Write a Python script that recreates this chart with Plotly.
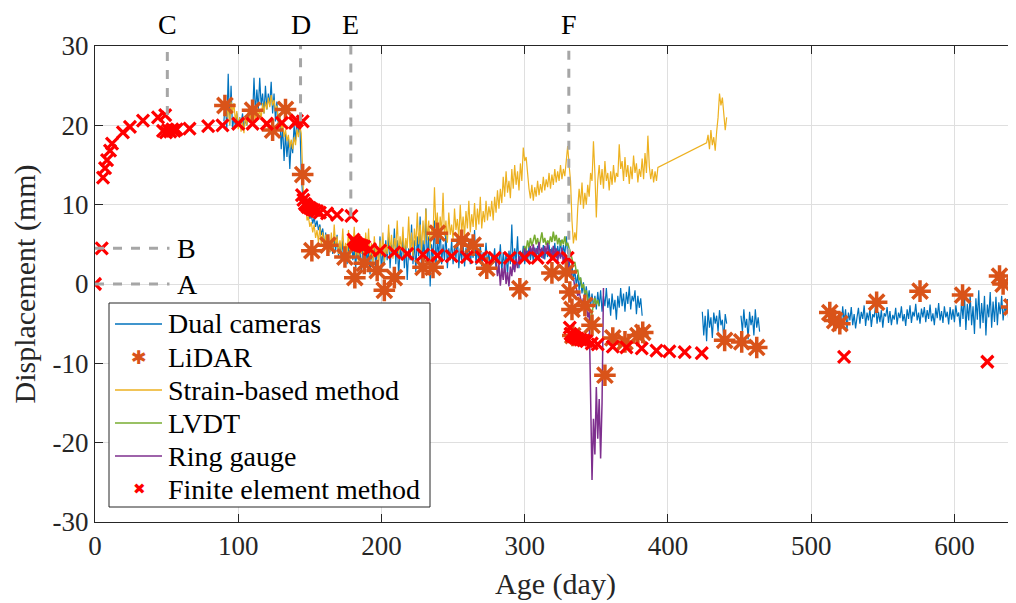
import plotly.graph_objects as go

# ---------------- data ----------------
# Dual cameras: (start day, daily values)
cam_segments = [
    (90, [20.5, 23, 19.5, 26.5, 20, 25, 19.5, 21, 20, 21.5,
          19.8, 21, 20.2, 21.5, 19.5, 20.8, 20, 21.5, 20.5, 22,
          21, 26, 21.5, 24.5, 22, 26, 22.5, 24, 21.5, 25,
          22, 24, 22.5, 25.5, 21.5, 24, 20.5, 23, 20, 21.5,
          17, 20, 15.5, 19, 16, 18.5, 14.5, 18, 16.5, 20,
          18, 21, 19, 20.5, 14, 11, 10, 9.5, 8.8, 9.5,
          8.2, 8.8, 7.6, 8.4, 7.2, 8, 6.8, 7.5, 6.2, 7, 5.5]),
    (161, [6.5, 4.5, 6, 4, 5.5, 3.8, 5.8, 4.2, 6.2, 3.5,
           5, 3, 5.5, 3.2, 4.8, 2.5, 5, 3.5, 6, 3,
           4.5, 2, 5, 3, 4.2, 1.5, 4.8, 3, 5.5, 2.5,
           4.5, 1.2, 4, 2.8, 5.2, 2, 4.6, 3, 6, 1.5,
           4.5, 2.5, 5.5, 3, 6.5, 2, 5, 3.5, 7, 2.5,
           5.5, 1, 4.5, 3, 6, 2, 5, 0.5, 4.5, 3,
           7.5, 2.5, 5.5, 1.5, 6, 3.5, 8.5, 2, 5.5, 3,
           9.5, 2.5, 6, -0.3, 5, 3, 8, 2, 5.5, 3.5,
           7, 2.5, 5, 3, 6.5, 2, 4.5, 3, 5.5, 2.5,
           4.8, 3.2, 6, 2, 4.5, 3, 5, 2.2, 4.6, 3,
           5.5, 2.5, 4.2, 3.3, 6.8, 2.4, 4.5, 2.8, 5, 2.2,
           4, 3, 5.2, 2.5, 4, 2, 3.8, 2.6, 4.5, 1.8,
           3.5, 2.5, 5, 1.5, 4, 2.2, 3.8, 1.2, 4.2, 2.5,
           7.5, 1.8, 4.5, 2.8, 6, 2, 4.2, 3, 4.8, 2.5,
           4.4, 2.8, 4.8, 3, 4.5, 2.8, 4.6, 3.2, 4.8, 2.9,
           4.4, 3.3, 4.9, 3.1, 4.5, 3.4, 5, 3.2, 4.6, 3.5,
           5.2, 3.3, 4.8, 3.6, 5.5, 3.4, 4.9, 3.6, 6, 3.8]),
    (331, [3, 1.5, 2.5, 0.5, 1.8, -0.2, 1.2, -0.8, 0.8, -1.2,
           0.2, -1.8, -0.3, -2.2, -0.8, -2.8, -1.2, -3, -1.5, -3.2,
           -1, -2.8, -0.8, -3.5, -1.5, -2.8, -0.5, -3, -1.8, -4,
           -1.2, -3.2, -2, -4.5, -1.5, -3, -0.5, -2.8, -1.2, -3.5,
           -1, -2.5, -0.3, -3.2, -1.5, -2.2, -0.8, -3.8, -1.5, -3,
           -1.8, -4]),
    (424, [-3.5, -6.5, -4, -7.2, -3.2, -5.5, -4.2, -6.8, -3.6, -5,
           -4, -6, -3.3, -5.2, -4.5, -7, -3.8, -5]),
    (451, [-4, -6, -3.2, -5.5, -4.4, -7, -3.5, -5.2, -4, -6.5,
           -3.2, -5.5, -4.2, -6]),
    (520, [-3.5, -5.5, -2.8, -4.8, -3.2, -5.8, -3.6, -4.6, -2.9, -5.2,
           -3.8, -5.6, -4.2, -3, -5, -3.5, -4.4, -2.7, -5.3, -3.6,
           -4.6, -3.1, -5.4, -3.8, -4.2, -2.6, -5, -3.5, -4.8, -3.3,
           -5.5, -3.7, -4.1, -2.9, -4.9, -3.4, -5.2, -3.9, -4.5, -3,
           -5.1, -3.6, -4.3, -2.8, -4.7, -3.8, -5.3, -3.2, -4.4, -2.7,
           -4.9, -3.5, -4.1, -2.5, -4.6, -3.6, -5, -3.1, -4.2, -2.9,
           -4.8, -3.3, -4.4, -2.6, -4.7, -3.7, -5.2, -3, -4.3, -2.4,
           -4.6, -3.4, -4.9, -2.8, -4.2, -3.5, -5.1, -2.9, -4.5, -3.2,
           -4.8, -2.7, -4.1, -3.6, -5.4, -2.2, -4.4, -1.2, -5.8, -2.5,
           -4.6, -1.4, -5.2, -2.8, -6.3, -1.8, -4.5, -0.8, -5.6, -2.4,
           -4.9, -1.5, -6.5, -2.6, -4.2, -1, -5.5, -2.2, -4.8, -1.6,
           -5.2, -2.3, -3.8, -1.5, -4.6, -2.8, -3.6, -1.9, -4.9, -2.5,
           -3.9, -2.1, -4.4, -3]),
]

# Strain-based method (two pieces joined by a straight line)
strain_segments = [
    (92, [21, 22.5, 20, 23, 21.5, 22.8, 20.5, 21.8, 19.5, 21,
          19.2, 20.5, 19, 21.2, 20, 22, 20.5, 21.5, 20.2, 21.8,
          20.6, 22.5, 21, 22, 20.8, 22.8, 21.5, 23, 22, 23.5,
          22.3, 23.8, 22.5, 23.2, 21.8, 22.5, 20.5, 21.5, 19.5, 20.2,
          18.5, 19.5, 18, 18.8, 17.2, 18.2, 17, 18.5, 17.5, 19.5,
          18.5, 20, 19, 12.5, 9, 11, 8, 8.5, 7.2, 7.8,
          6.5, 7.5, 5.8, 6.8, 5.2, 7.2, 5, 6.5, 4.5,
          6.2, 4.5, 5.8, 4, 6.5, 4.2, 7.5, 4.8, 6, 3.8,
          5.5, 4.2, 7, 3.5, 5.2, 4, 6.8, 3, 5.5, 4.5,
          7.2, 3.5, 5, 2.5, 6, 3.8, 5.5, 2.8, 6.5, 4,
          7, 3, 5.2, 2.5, 6, 3.5, 4.8, 2.2, 5.5, 3.5,
          6.5, 2.8, 5, 3.8, 7.5, 4, 6.2, 3.2, 5.8, 4.5,
          8, 3.8, 6, 4.2, 7.2, 3.5, 5.8, 4.5, 8.5, 4,
          6.5, 3.5, 7, 4.8, 9, 5, 7.5, 4.2, 8, 5,
          9.5, 5.5, 8, 4.5, 7, 6, 12.2, 7, 9, 5.5,
          8.5, 6.5, 11.5, 6, 8, 5.2, 9, 6.2, 7.5, 5.5,
          9.5, 6.8, 8.2, 5.8, 10, 6.5, 8.5, 6, 9.2, 7,
          10.5, 6.5, 8.8, 7.2, 10.2, 6.8, 9.5, 7.5, 11, 7,
          9.2, 7.8, 10.5, 8, 9.8,
          8.5, 10.5, 8, 11, 9, 11.8, 9.5, 12, 10.2, 13.5,
          11, 14.2, 11.5, 13, 10.8, 14.5, 12, 15, 12.5, 14.2,
          11.8, 15.2, 13, 17.2, 15.5, 16, 13.5, 12, 10.8, 12.5,
          10.5, 12.2, 11, 13, 11.2, 12.6, 11.5, 13.5, 11.8, 13.2,
          12.2, 14, 12, 13.8, 12.5, 14.5, 12.8, 14.2, 13, 15,
          13.2, 14.5, 13.6, 15.2, 17.4,
          15, 13, 8, 5.1, 6.5, 5.5, 9.5, 12, 10, 12.8,
          9.5, 11.5, 10, 12.5, 11, 14, 13, 18, 14, 8.4,
          13, 15, 12.5, 14.5, 12, 15.5, 13, 14, 11.8, 14.2,
          12.5, 15, 12.8, 14, 13.5, 17.6, 14.5, 15.5, 13, 16,
          13.5, 15, 12.6, 14.8, 13.2, 16.2, 14, 15.2, 12.8, 14.5,
          13.5, 15.8, 13.2, 16.5, 14, 18.7, 14.8, 13.2, 14.5, 12.8,
          14.2, 13, 14.7]),
    (427, [17.8, 18.8, 17, 19.4, 17.5, 18.5, 16.8, 19.2, 21, 24,
           22.5, 23.5, 21, 19.4, 21]),
]

# LVDT
lvdt_start = 299
lvdt_vals = [3.5, 4.8, 4.2, 5.5, 4.6, 5.8, 4.8, 5.4, 6.2, 5,
             5.8, 4.6, 5.6, 6.5, 5.2, 5.8, 4.9, 5.5, 5, 6,
             5.3, 6.6, 5.4, 6.2, 5, 5.8, 4.8, 5.6, 5, 6,
             4.8, 5.2, 4.5, 4, 3.2, 2.5, 2.8, 1.5, 1.8, 0.5,
             0.8, -0.5, 0, -1.2, -0.8, -2, -2.8, -5, -3.5, -2.5,
             -1.8, -2.6, -2, -2.8]

# Ring gauge
ring_start = 280
ring_vals = [3, 1, 2.5, -0.2, 2, 0.5, 2.8, 0, 1.5, -0.3,
             2.2, 1, 3, 1.5, 3.2, 2, 3.5, 2.5, 4, 3,
             4.5, 3.2, 4.2, 3.5, 4.8, 3.6, 5, 3.4, 4.5, 3.8,
             5.3, 3.5, 4.6, 3.2, 4.8, 3.8, 5.2, 3.6, 4.4, 3,
             4.8, 3.5, 4.5, 2.8, 4.2, 3.2, 4.6, 2.5, 4, 2.2,
             3.5, 1.7, 2.2, 0.5, 0.8, -0.4, -0.5, -1.5, -1, -2,
             -2.6, -1.8, -3.2, -2.5, -4.2, -3.5, -14, -24.7, -17, -21.5,
             -13, -19.5, -14.5, -22, -15, -0.5]

# LiDAR
lidar_day = [90.7, 110, 124, 133, 145, 151.4, 162.6, 174.5, 181.4, 188,
             197, 202, 209, 229, 236, 239, 256, 264, 273.5, 296.6,
             319, 329, 331.5, 333, 333.6, 342, 347, 356, 361.5, 370,
             379, 382.4, 439.6, 451.5, 462, 513, 516.4, 520, 545.7, 576,
             605.7, 631.5, 634, 640]
lidar_val = [22.5, 21.9, 19.4, 22.0, 13.8, 4.2, 4.9, 3.4, 0.8, 2.6,
             1.7, -0.8, 0.8, 2.1, 2.1, 6.4, 5.5, 4.9, 2.0, -0.6,
             1.4, 1.5, -1.0, -3.2, -6.5, -2.7, -5.2, -11.5, -6.8, -7.3,
             -6.5, -6.1, -7.1, -7.3, -8.0, -3.6, -4.6, -5.0, -2.3, -0.9,
             -1.4, 1.0, 0.0, -2.9]

# Finite element method
fem_day = [0, 4.7, 5.6, 7, 8.4, 10.5, 11.9, 19.5, 24.4, 33.5,
           44, 49, 47.5, 49.5, 51, 52.5, 54, 55.5, 57, 66,
           79, 89, 100, 110, 120, 130.5, 139.6, 141, 145,
           144.5, 145.5, 146.5, 147.5, 148.5, 150, 151.5, 153, 155, 157,
           162, 169, 179, 180.5, 181.5, 182.5, 183.5, 185, 186.5, 188,
           192, 199, 209, 218, 229, 239, 249, 259.6, 270, 279,
           289.6, 300, 309, 319.6, 330, 331.5, 332, 333, 334, 335.5,
           337, 339, 341, 343, 346.8, 351, 361.5, 371, 381.7, 392,
           401, 411.7, 423.6, 523, 623]
fem_val = [0, 4.5, 13.4, 14.6, 15.6, 16.8, 17.7, 19.1, 19.8, 20.6,
           21.0, 21.3, 19.3, 19.1, 19.4, 19.2, 19.5, 19.3, 19.5, 19.6,
           19.9, 20.0, 20.2, 20.2, 20.2, 20.3, 20.3, 20.6, 20.5,
           11.2, 10.6, 10.1, 9.9, 9.7, 9.6, 9.4, 9.3, 9.2, 9.0,
           8.9, 8.7, 8.6, 5.6, 5.3, 5.1, 5.0, 4.9, 4.8, 4.7,
           4.4, 4.2, 4.0, 3.8, 3.7, 3.6, 3.5, 3.4, 3.4, 3.3,
           3.3, 3.3, 3.3, 3.3, 3.3, -5.5, -6.3, -6.5, -6.6, -6.8,
           -6.9, -7.0, -7.1, -7.2, -7.5, -7.6, -7.9, -8.0, -8.1, -8.4,
           -8.5, -8.6, -8.7, -9.2, -9.8]

# reference events
event_labels = ["C", "D", "E", "F"]
event_days = [50.5, 143.5, 178.6, 330.8]
event_bottom = [21.3, 20.5, 8.5, 3.3]
level_labels = ["A", "B"]
level_vals = [0, 4.5]
level_end = 52

x_ticks = [0, 100, 200, 300, 400, 500, 600]
y_ticks = [-30, -20, -10, 0, 10, 20, 30]
y_ticktext = ["-30", "-20", "-10", "0", "10", "20", "30"]

legend_names = ["Dual cameras", "LiDAR", "Strain-based method", "LVDT",
                "Ring gauge", "Finite element method"]

C_BLUE = "#0072BD"
C_ORANGE = "#D95319"
C_YELLOW = "#EDB120"
C_PURPLE = "#7E2F8E"
C_GREEN = "#77AC30"
C_RED = "#FF0000"
C_REF = "#A6A6A6"
FONT = "Liberation Serif"


def build(segments, gaps=True):
    xs, ys = [], []
    for start, vals in segments:
        if xs and gaps:
            xs.append(None)
            ys.append(None)
        xs += [start + i for i in range(len(vals))]
        ys += list(vals)
    return xs, ys


cam_x, cam_y = build(cam_segments)
str_x, str_y = build(strain_segments, gaps=False)
lvdt_x = [lvdt_start + i for i in range(len(lvdt_vals))]
ring_x = [ring_start + i for i in range(len(ring_vals))]

fig = go.Figure()
fig.add_trace(go.Scatter(x=cam_x, y=cam_y, mode="lines", name=legend_names[0],
                         line=dict(color=C_BLUE, width=1.2), connectgaps=False))
fig.add_trace(go.Scatter(x=str_x, y=str_y, mode="lines", name=legend_names[2],
                         line=dict(color=C_YELLOW, width=1.2)))
fig.add_trace(go.Scatter(x=lvdt_x, y=lvdt_vals, mode="lines", name=legend_names[3],
                         line=dict(color=C_GREEN, width=1.5)))
fig.add_trace(go.Scatter(x=ring_x, y=ring_vals, mode="lines", name=legend_names[4],
                         line=dict(color=C_PURPLE, width=1.5)))
fig.add_trace(go.Scatter(x=lidar_day, y=lidar_val, mode="markers", name=legend_names[1],
                         marker=dict(symbol="asterisk-open", size=18, color=C_ORANGE,
                                     line=dict(color=C_ORANGE, width=3.5))))
fig.add_trace(go.Scatter(x=fem_day, y=fem_val, mode="markers", name=legend_names[5],
                         marker=dict(symbol="x-thin-open", size=12, color=C_RED,
                                     line=dict(color=C_RED, width=3.2))))

# page body adds an 8 px margin; plot area in window pixels: x 95..1016, y 46..522
PAGE = 8
W, H, L, T = 921.0, 476.0, 95.0, 46.0

shapes = []
annotations = []
for lab, d, b in zip(event_labels, event_days, event_bottom):
    shapes.append(dict(type="line", xref="x", yref="y", x0=d, x1=d, y0=b, y1=30,
                       line=dict(color=C_REF, width=3, dash="dash"), layer="above"))
    annotations.append(dict(x=d, y=1, xref="x", yref="paper", text=lab, showarrow=False,
                            yanchor="bottom", yshift=4,
                            font=dict(family=FONT, size=28, color="black")))
for lab, v in zip(level_labels, level_vals):
    shapes.append(dict(type="line", xref="x", yref="y", x0=0, x1=level_end, y0=v, y1=v,
                       line=dict(color=C_REF, width=3, dash="dash"), layer="above"))
    annotations.append(dict(x=level_end + 4, y=v, xref="x", yref="y", text=lab,
                            showarrow=False, xanchor="left", yanchor="middle",
                            font=dict(family=FONT, size=28, color="black")))


def px_x(p):
    return (p - L) / W


def px_y(p):
    return (T + H - p) / H


# manual legend
shapes.append(dict(type="rect", xref="paper", yref="paper",
                   x0=px_x(109), x1=px_x(430), y0=px_y(507), y1=px_y(303),
                   fillcolor="white", line=dict(color="#262626", width=1), layer="above"))
row_py = [324, 357, 390, 423, 456, 489]
styles = [("line", C_BLUE), ("ast", C_ORANGE), ("line", C_YELLOW), ("line", C_GREEN),
          ("line", C_PURPLE), ("x", C_RED)]
for name, py, (kind, col) in zip(legend_names, row_py, styles):
    if kind == "line":
        shapes.append(dict(type="line", xref="paper", yref="paper",
                           x0=px_x(115), x1=px_x(162), y0=px_y(py), y1=px_y(py),
                           line=dict(color=col, width=1.5), layer="above"))
    elif kind == "ast":
        annotations.append(dict(x=px_x(139), y=px_y(py), xref="paper", yref="paper",
                                text="✱", showarrow=False, xanchor="center", yanchor="middle",
                                font=dict(family="DejaVu Sans", size=19, color=col)))
    else:
        annotations.append(dict(x=px_x(139), y=px_y(py), xref="paper", yref="paper",
                                text="✖", showarrow=False, xanchor="center", yanchor="middle",
                                font=dict(family="DejaVu Sans", size=15, color=col)))
    annotations.append(dict(x=px_x(166), y=px_y(py), xref="paper", yref="paper",
                            text=name, showarrow=False, xanchor="left", yanchor="middle",
                            font=dict(family=FONT, size=28, color="black")))

fig.update_layout(
    width=1016 - PAGE, height=603 - PAGE,
    margin=dict(l=95 - PAGE, r=0, t=46 - PAGE, b=81, autoexpand=False),
    paper_bgcolor="white", plot_bgcolor="white",
    showlegend=False,
    font=dict(family=FONT, size=27, color="#262626"),
    shapes=shapes, annotations=annotations,
    xaxis=dict(range=[0, 643], tickvals=x_ticks, showgrid=True, gridcolor="#DFDFDF",
               gridwidth=1, zeroline=False, showline=True, linecolor="#262626",
               linewidth=1, mirror="ticks", ticks="inside", ticklen=8, automargin=False,
               tickcolor="#262626", tickfont=dict(family=FONT, size=27, color="#262626"),
               title=dict(text="Age (day)", font=dict(family=FONT, size=30, color="#262626"),
                          standoff=12)),
    yaxis=dict(range=[-30, 30], tickvals=y_ticks, ticktext=y_ticktext, showgrid=True,
               gridcolor="#DFDFDF", gridwidth=1, zeroline=False, showline=True,
               linecolor="#262626", linewidth=1, mirror=False, ticks="inside", ticklen=8,
               automargin=False,
               tickcolor="#262626", tickfont=dict(family=FONT, size=27, color="#262626"),
               title=dict(text="Displacement (mm)",
                          font=dict(family=FONT, size=30, color="#262626"), standoff=8)),
)

fig.write_html("out.html")
